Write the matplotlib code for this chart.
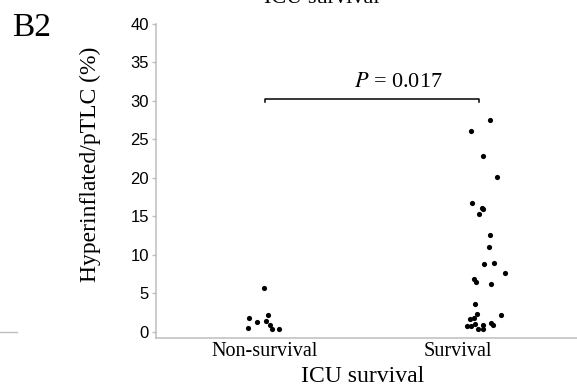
import matplotlib
matplotlib.use("Agg")
import matplotlib.pyplot as plt
from matplotlib.lines import Line2D
import numpy as np

# data
categories = ["Non-survival", "Survival"]
nonsurv_vals = [5.64, 1.82, 1.30, 2.21, 1.35, 0.87, 0.48, 0.31, 0.31]
nonsurv_jitter = [-0.005, -0.073, -0.037, 0.015, 0.006, 0.022, -0.078, 0.034, 0.067]
surv_vals = [27.5, 26.06, 22.85, 20.1, 16.65, 16.1, 15.9, 15.3, 12.57, 11.05,
             8.8, 8.97, 7.67, 6.85, 6.46, 6.24, 3.64, 2.26, 2.2, 1.74,
             1.6, 0.74, 0.7, 0.95, 0.31, 0.87, 0.31, 1.1, 0.8]
surv_jitter = [0.053, -0.037, 0.020, 0.086, -0.031, 0.014, 0.019, -0.001, 0.051, 0.045,
               0.025, 0.069, 0.121, -0.023, -0.015, 0.055, -0.017, -0.008, 0.104, -0.023,
               -0.040, -0.055, -0.035, -0.019, -0.003, 0.017, 0.020, 0.056, 0.064]
yticks = [0, 5, 10, 15, 20, 25, 30, 35, 40]
p_text = "$P$ = 0.017"
bracket_y = 30.2

serif = "Liberation Serif"
sans = "Liberation Sans"
gray = "#bdbdbd"
plt.rcParams["mathtext.fontset"] = "stix"

fig = plt.figure(figsize=(5.77, 3.87), dpi=100)
ax = fig.add_axes([156/577, 49.3/387, 421/577, 313.8/387])

ax.scatter(np.array(nonsurv_jitter) + 0, nonsurv_vals, s=14, color="black", linewidths=0)
ax.scatter(np.array(surv_jitter) + 1, surv_vals, s=14, color="black", linewidths=0)

# significance bracket
ax.plot([0, 0, 1, 1], [bracket_y - 0.4, bracket_y, bracket_y, bracket_y - 0.4],
        color="black", lw=1.1)
ax.text(0.625, bracket_y + 1.0, p_text, ha="center", va="bottom",
        fontsize=16, family=serif)

ax.set_xlim(-0.509, 1.458)
ax.set_ylim(-0.8, 40)
ax.set_yticks(yticks)
ax.set_yticklabels([str(t) for t in yticks], family=sans, fontsize=12)
ax.set_xticks([0, 0.9])
ax.set_xticklabels(categories, family=serif, fontsize=14.5)
ax.tick_params(axis="x", length=0, pad=3)
ax.tick_params(axis="y", length=3, width=1, color=gray, pad=2)

for s in ["top", "right"]:
    ax.spines[s].set_visible(False)
for s in ["left", "bottom"]:
    ax.spines[s].set_color(gray)
    ax.spines[s].set_linewidth(1.1)

fig.text(90/577, 1 - 164/387, "Hyperinflated/pTLC (%)", rotation=90,
         ha="center", va="center", family=serif, fontsize=17)
fig.text(363/577, 1 - 376/387, "ICU survival", ha="center", va="center",
         family=serif, fontsize=17)
fig.text(322/577, 1 - 3/387, "ICU survival", ha="center", va="baseline",
         family=serif, fontsize=16)
fig.text(12/577, 1 - 36/387, "B2", ha="left", va="baseline",
         family=serif, fontsize=24)
fig.add_artist(Line2D([0, 17/577], [1 - 332/387, 1 - 332/387], color=gray, lw=1))

fig.savefig("out.png", dpi=100)
